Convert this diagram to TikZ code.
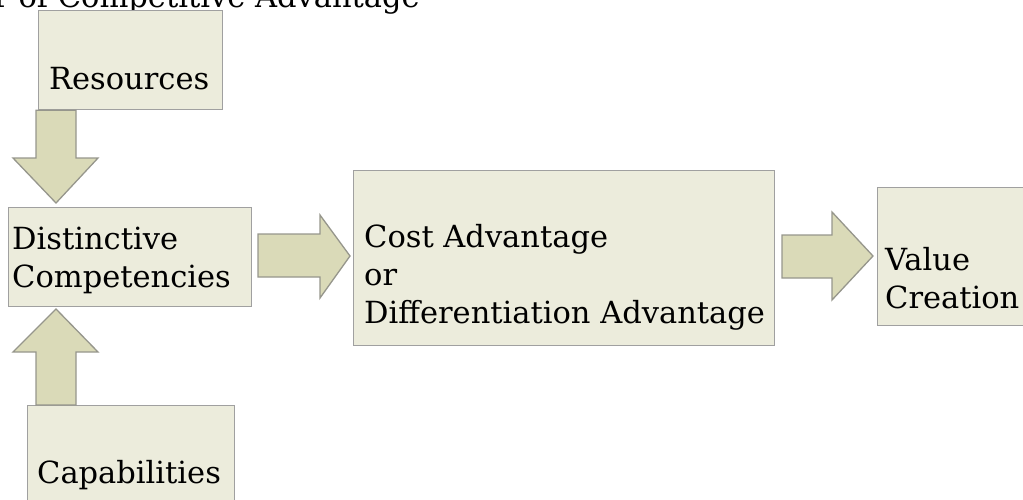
\documentclass[tikz,border=0pt]{standalone}
\usepackage{fontspec}
\setmainfont{DejaVu Serif}
\definecolor{boxfill}{RGB}{236,236,220}
\definecolor{boxline}{RGB}{160,160,160}
\definecolor{arrowfill}{RGB}{218,218,184}
\definecolor{arrowline}{RGB}{150,150,140}
\tikzset{
  stage/.style={draw=boxline, fill=boxfill, line width=1.3pt, inner sep=0pt, anchor=north west},
  lbl/.style={font=\fontsize{30.5}{38}\selectfont, inner sep=0pt, anchor=base west, align=left},
  blockarrow/.style={draw=arrowline, fill=arrowfill, line width=1.3pt, line join=miter},
}
\begin{document}
\begin{tikzpicture}[x=1pt,y=-1pt]
\useasboundingbox (0,0) rectangle (1023,499);
\begin{scope}
\clip (0,0) rectangle (1023,499);
% heading, partly outside the page
\node[lbl] (title) at (-24,7) {er of Competitive Advantage};

% boxes
\node[stage, minimum width=184pt, minimum height=99pt] (res) at (38,10) {};
\node[stage, minimum width=243pt, minimum height=99pt] (dc) at (8,207) {};
\node[stage, minimum width=207pt, minimum height=110pt] (cap) at (27,405) {};
\node[stage, minimum width=421pt, minimum height=175pt] (adv) at (353,170) {};
\node[stage, minimum width=160pt, minimum height=138pt] (val) at (877,187) {};

% labels (a multi-line label is placed by its last baseline)
\node[lbl] (tres) at (49,89) {Resources};
\node[lbl] (tdc) at (12,287) {Distinctive\\Competencies};
\node[lbl] (tcap) at (37,483) {Capabilities};
\node[lbl] (tadv) at (364,323) {Cost Advantage\\or\\Differentiation Advantage};
\node[lbl] (tval) at (885,308) {Value\\Creation};

% block arrows between the boxes
\draw[blockarrow] (res.south -| 36,0) -- (36,158) -- (13,158) -- (56,203) -- (98,158) -- (76,158) -- (res.south -| 76,0) -- cycle;
\draw[blockarrow] (cap.north -| 36,0) -- (36,352) -- (13,352) -- (56,309) -- (98,352) -- (76,352) -- (cap.north -| 76,0) -- cycle;
\draw[blockarrow] (258,234) -- (320,234) -- (320,215) -- (350,256) -- (320,298) -- (320,277) -- (258,277) -- cycle;
\draw[blockarrow] (782,235) -- (832,235) -- (832,212) -- (873,256) -- (832,300) -- (832,278) -- (782,278) -- cycle;
\end{scope}
\end{tikzpicture}
\end{document}
